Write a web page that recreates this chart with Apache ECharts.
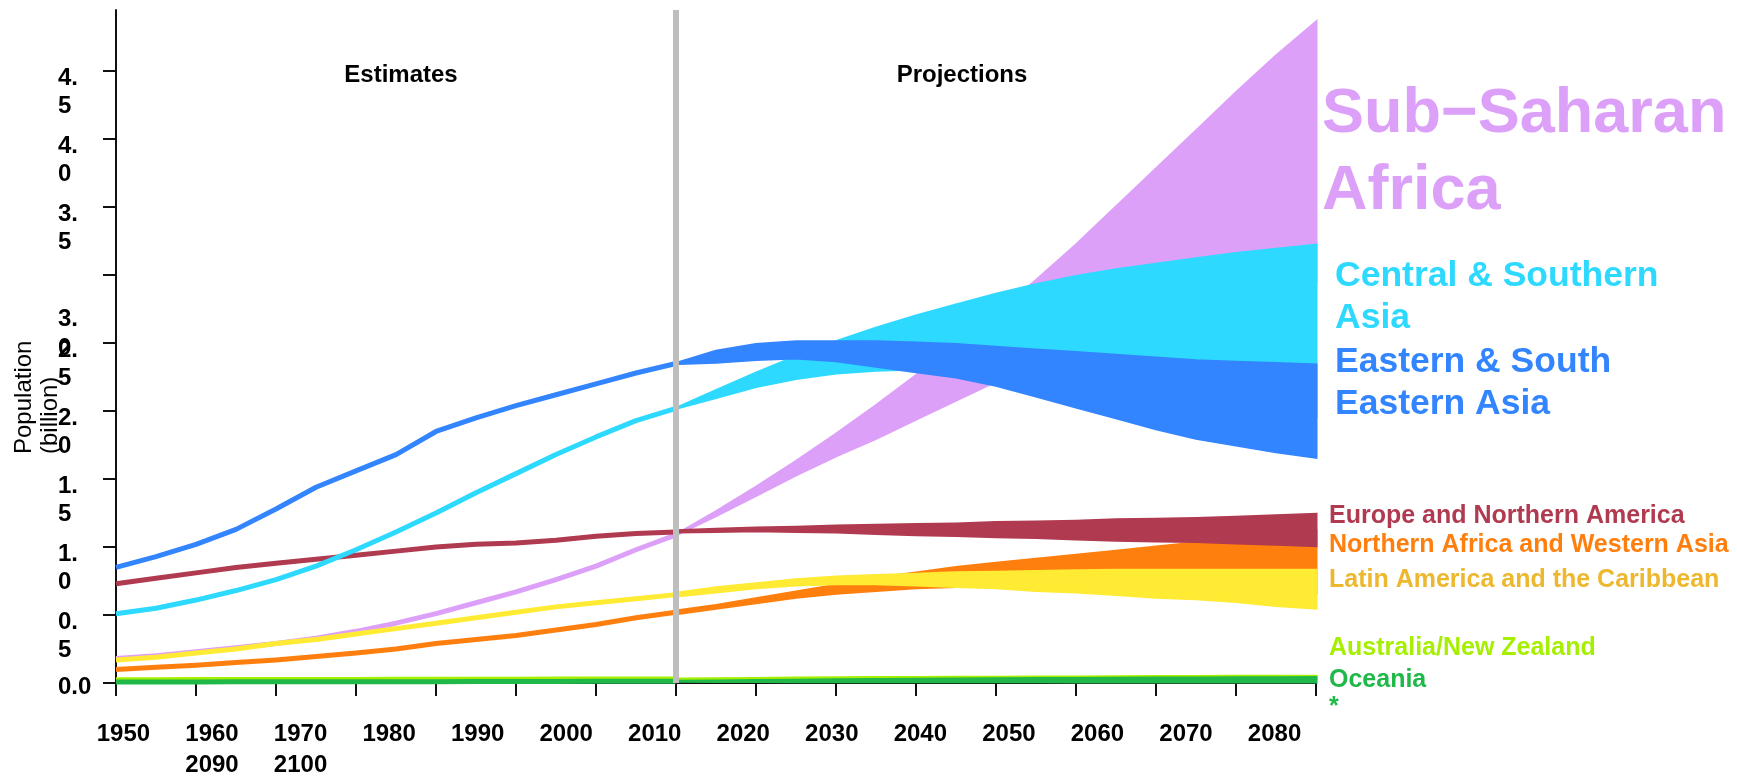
<!DOCTYPE html>
<html>
<head>
<meta charset="utf-8">
<script src="https://cdn.jsdelivr.net/npm/echarts@6/dist/echarts.min.js"></script>
<style>
html,body{margin:0;padding:0;background:#ffffff;}
#chart{width:1737px;height:776px;}
</style>
</head>
<body>
<div id="chart"></div>
<script>
// ---------------- data (billions) ----------------
const estYears  = [1950,1955,1960,1965,1970,1975,1980,1985,1990,1995,2000,2005,2010,2015,2020];
const projYears = [2020,2025,2030,2035,2040,2045,2050,2055,2060,2065,2070,2075,2080,2085,2090,2095,2100];

const ssaEst  = [0.18,0.20,0.23,0.26,0.29,0.33,0.38,0.44,0.51,0.59,0.67,0.76,0.86,0.98,1.09];
const ssaLo   = [1.09,1.23,1.38,1.53,1.67,1.80,1.94,2.08,2.22,2.35,2.47,2.58,2.68,2.77,2.85,2.91,2.96];
const ssaHi   = [1.09,1.26,1.44,1.63,1.83,2.04,2.26,2.48,2.71,2.96,3.22,3.50,3.78,4.06,4.34,4.61,4.86];

const csaEst  = [0.51,0.55,0.61,0.68,0.76,0.86,0.98,1.11,1.25,1.40,1.54,1.68,1.81,1.93,2.02];
const csaLo   = [2.02,2.10,2.18,2.24,2.28,2.30,2.31,2.31,2.30,2.28,2.25,2.21,2.16,2.11,2.06,2.01,1.96];
const csaHi   = [2.02,2.15,2.28,2.40,2.51,2.61,2.70,2.78,2.86,2.93,2.99,3.04,3.08,3.12,3.16,3.19,3.22];

const eseaEst = [0.85,0.93,1.02,1.13,1.28,1.44,1.56,1.68,1.85,1.95,2.04,2.12,2.20,2.28,2.35];
const eseaLo  = [2.35,2.36,2.38,2.39,2.37,2.33,2.29,2.25,2.19,2.11,2.03,1.95,1.87,1.80,1.75,1.70,1.66];
const eseaHi  = [2.35,2.44,2.49,2.51,2.51,2.51,2.50,2.49,2.47,2.45,2.43,2.41,2.39,2.37,2.36,2.35,2.34];

const enaEst  = [0.73,0.77,0.81,0.85,0.88,0.91,0.94,0.97,1.00,1.02,1.03,1.05,1.08,1.10,1.11];
const enaLo   = [1.11,1.115,1.12,1.115,1.11,1.10,1.09,1.085,1.075,1.07,1.06,1.05,1.045,1.04,1.03,1.02,1.01];
const enaHi   = [1.12,1.13,1.14,1.145,1.155,1.16,1.165,1.17,1.18,1.185,1.19,1.20,1.205,1.21,1.22,1.23,1.24];

const nawaEst = [0.10,0.115,0.13,0.15,0.17,0.195,0.22,0.25,0.29,0.32,0.35,0.39,0.43,0.48,0.52];
const nawaLo  = [0.51,0.55,0.59,0.63,0.66,0.68,0.70,0.71,0.72,0.72,0.72,0.71,0.70,0.69,0.68,0.67,0.66];
const nawaHi  = [0.53,0.57,0.62,0.67,0.72,0.77,0.81,0.85,0.88,0.91,0.94,0.97,1.00,1.03,1.06,1.09,1.12];

const lacEst  = [0.17,0.19,0.22,0.25,0.29,0.32,0.36,0.40,0.44,0.48,0.52,0.56,0.59,0.62,0.65];
const lacLo   = [0.64,0.67,0.70,0.72,0.73,0.73,0.72,0.71,0.70,0.68,0.67,0.65,0.63,0.62,0.60,0.57,0.55];
const lacHi   = [0.66,0.70,0.73,0.76,0.78,0.79,0.80,0.81,0.815,0.82,0.825,0.83,0.83,0.83,0.83,0.83,0.83];

const anzEst  = [0.024,0.024,0.025,0.025,0.026,0.026,0.026,0.027,0.027,0.028,0.028,0.029,0.029,0.030,0.030];
const anzLo   = [0.030,0.031,0.032,0.033,0.034,0.034,0.035,0.035,0.035,0.035,0.035,0.035,0.035,0.035,0.035,0.035,0.035];
const anzHi   = [0.030,0.032,0.034,0.036,0.038,0.040,0.041,0.042,0.043,0.044,0.045,0.046,0.047,0.048,0.049,0.050,0.050];

const oceEst  = [0.008,0.008,0.008,0.009,0.009,0.009,0.010,0.010,0.010,0.011,0.011,0.011,0.012,0.012,0.012];
const oceLo   = [0.012,0.011,0.011,0.010,0.010,0.010,0.009,0.009,0.009,0.009,0.008,0.008,0.008,0.008,0.008,0.008,0.008];
const oceHi   = [0.012,0.015,0.018,0.021,0.024,0.026,0.028,0.030,0.032,0.033,0.034,0.035,0.036,0.037,0.038,0.039,0.040];

const dividerYear = 2020;

const yTicks      = [0,0.5,1,1.5,2,2.5,3,3.5,4,4.5];
const yTickLabels = ['0.0','0.5','1.0','1.5','2.0','2.5','3.0','3.5','4.0','4.5'];
const xTicks      = [1950,1960,1970,1980,1990,2000,2010,2020,2030,2040,2050,2060,2070,2080,2090,2100];
const xTickLabels = ['1950','1960','1970','1980','1990','2000','2010','2020','2030','2040','2050','2060','2070','2080','2090','2100'];

// ---------------- styles ----------------
const C = {
  ssa:'#DDA0F8', csa:'#2ED9FF', esea:'#3385FF', ena:'#B03A50',
  nawa:'#FF7F0E', lac:'#FFEB33', lacText:'#EDB72E', anz:'#A6EF00', oce:'#21B84A'
};
const FONT = 'Liberation Sans, Arial, Helvetica, sans-serif';

function pairs(xs, ys){ return xs.map((x,i)=>[x, ys[i]]); }

function lineSeries(name, ys, color, z){
  return {
    type:'line', name, z, data: pairs(estYears, ys),
    showSymbol:false, symbol:'none', smooth:false, silent:true,
    lineStyle:{color, width:5, cap:'butt', join:'round'}
  };
}
function bandSeries(name, lo, hi, color, z){
  return {
    type:'custom', name, z, silent:true, coordinateSystem:'cartesian2d',
    data:[[projYears[0], lo[0]]],
    renderItem:function(params, api){
      const pts = [];
      for (let i=0;i<projYears.length;i++) pts.push(api.coord([projYears[i], hi[i]]));
      for (let i=projYears.length-1;i>=0;i--) pts.push(api.coord([projYears[i], lo[i]]));
      return {type:'polygon', shape:{points:pts},
        style:{fill:color, stroke:color, lineWidth:3, lineJoin:'miter'}};
    }
  };
}

// y labels: wrapped like the reference
function yLabel(v){
  const i = Math.round(v*2);
  const s = yTickLabels[i];
  if (s === undefined) return '';
  if (i === 0) return '{z|' + s + '}';
  const parts = s.split('.');
  if (i === 6) return '{s| }\n{c|' + parts[0] + '.}\n{e|' + parts[1] + '}';
  return '{a|' + parts[0] + '.}\n{b|' + parts[1] + '}';
}
const labFont = {fontSize:24, fontWeight:'bold', fontFamily:FONT, color:'#000', align:'left'};

// x labels laid out in 14 slots, overflow wraps to second row
const xSlots = xTickLabels.slice(0,14);
xSlots[1] = xSlots[1] + '\n' + xTickLabels[14];
xSlots[2] = xSlots[2] + '\n' + xTickLabels[15];

const series = [
  bandSeries('ssaBand', ssaLo, ssaHi, C.ssa, 2), lineSeries('Sub-Saharan Africa', ssaEst, C.ssa, 2),
  bandSeries('nawaBand', nawaLo, nawaHi, C.nawa, 3), lineSeries('Northern Africa and Western Asia', nawaEst, C.nawa, 3),
  bandSeries('lacBand', lacLo, lacHi, C.lac, 4), lineSeries('Latin America and the Caribbean', lacEst, C.lac, 4),
  bandSeries('enaBand', enaLo, enaHi, C.ena, 5), lineSeries('Europe and Northern America', enaEst, C.ena, 5),
  bandSeries('csaBand', csaLo, csaHi, C.csa, 6), lineSeries('Central & Southern Asia', csaEst, C.csa, 6),
  bandSeries('eseaBand', eseaLo, eseaHi, C.esea, 7), lineSeries('Eastern & South Eastern Asia', eseaEst, C.esea, 7),
  bandSeries('anzBand', anzLo, anzHi, C.anz, 8), lineSeries('Australia/New Zealand', anzEst, C.anz, 8),
  bandSeries('oceBand', oceLo, oceHi, C.oce, 9), lineSeries('Oceania*', oceEst, C.oce, 9),
  {
    type:'custom', name:'divider', z:20, silent:true, coordinateSystem:'cartesian2d',
    data:[[dividerYear, 0]],
    renderItem:function(params, api){
      const p0 = api.coord([dividerYear, 0]);
      const p1 = api.coord([dividerYear, 4.95]);
      return {type:'line', shape:{x1:p0[0], y1:p0[1], x2:p1[0], y2:p1[1]},
        style:{stroke:'#BEBEBE', lineWidth:6}};
    }
  }
];

const option = {
  animation:false,
  backgroundColor:'#ffffff',
  grid:[
    {left:116, right:421, top:10, bottom:93, outerBoundsMode:'none', containLabel:false},
    {left:79.2, width:1239.6, top:10, bottom:93, outerBoundsMode:'none', containLabel:false}
  ],
  xAxis:[
    {type:'value', gridIndex:0, min:1950, max:2100, interval:10,
     axisLine:{show:true, onZero:false, lineStyle:{color:'#111', width:2}},
     axisTick:{show:true, length:13, inside:false, customValues:xTicks, lineStyle:{color:'#111', width:2}},
     axisLabel:{show:false}, splitLine:{show:false}},
    {type:'category', gridIndex:1, data:xSlots, boundaryGap:true,
     axisLine:{show:false}, axisTick:{show:false}, splitLine:{show:false},
     axisLabel:{show:true, interval:0, margin:35.5, lineHeight:31, fontSize:24, fontWeight:'bold',
       fontFamily:FONT, color:'#000', align:'center', verticalAlign:'top'}}
  ],
  yAxis:[
    {type:'value', gridIndex:0, min:0, max:4.95, interval:0.5,
     axisLine:{show:true, onZero:false, lineStyle:{color:'#111', width:2}},
     axisTick:{show:true, length:13, inside:false, customValues:yTicks, lineStyle:{color:'#111', width:2}},
     splitLine:{show:false},
     axisLabel:{show:true, customValues:yTicks, margin:58, align:'left', verticalAlign:'top',
       formatter:yLabel, fontSize:24, fontWeight:'bold', fontFamily:FONT, color:'#000',
       rich:{
         a:Object.assign({lineHeight:14}, labFont),
         b:Object.assign({lineHeight:42}, labFont),
         z:Object.assign({lineHeight:8}, labFont),
         s:Object.assign({lineHeight:30}, labFont),
         c:Object.assign({lineHeight:28}, labFont),
         e:Object.assign({lineHeight:30}, labFont)
       }}},
    {type:'value', gridIndex:1, min:0, max:1, show:false}
  ],
  series:series,
  graphic:[
    {type:'text', x:401, y:75, silent:true, style:{text:'Estimates', align:'center', verticalAlign:'middle',
      fontSize:24, fontWeight:'bold', fontFamily:FONT, fill:'#000'}},
    {type:'text', x:962, y:75, silent:true, style:{text:'Projections', align:'center', verticalAlign:'middle',
      fontSize:24, fontWeight:'bold', fontFamily:FONT, fill:'#000'}},
    {type:'text', x:37, y:454, rotation:Math.PI/2, silent:true, style:{text:'Population\n(billion)',
      align:'left', verticalAlign:'middle', fontSize:24, lineHeight:26, fontFamily:FONT, fill:'#000'}},
    {type:'text', x:1322, y:153.5, silent:true, style:{text:'Sub\u2212Saharan\nAfrica', align:'left', verticalAlign:'middle',
      fontSize:63, lineHeight:77, fontWeight:'bold', fontFamily:FONT, fill:C.ssa}},
    {type:'text', x:1335, y:297, silent:true, style:{text:'Central & Southern\nAsia', align:'left', verticalAlign:'middle',
      fontSize:35.5, lineHeight:42, fontWeight:'bold', fontFamily:FONT, fill:C.csa}},
    {type:'text', x:1335, y:383, silent:true, style:{text:'Eastern & South\nEastern Asia', align:'left', verticalAlign:'middle',
      fontSize:35.5, lineHeight:42, fontWeight:'bold', fontFamily:FONT, fill:C.esea}},
    {type:'text', x:1329, y:516, silent:true, style:{text:'Europe and Northern America', align:'left', verticalAlign:'middle',
      fontSize:25, fontWeight:'bold', fontFamily:FONT, fill:C.ena}},
    {type:'text', x:1329, y:545, silent:true, style:{text:'Northern Africa and Western Asia', align:'left', verticalAlign:'middle',
      fontSize:25, fontWeight:'bold', fontFamily:FONT, fill:C.nawa}},
    {type:'text', x:1329, y:580, silent:true, style:{text:'Latin America and the Caribbean', align:'left', verticalAlign:'middle',
      fontSize:25, fontWeight:'bold', fontFamily:FONT, fill:C.lacText}},
    {type:'text', x:1329, y:648, silent:true, style:{text:'Australia/New Zealand', align:'left', verticalAlign:'middle',
      fontSize:25, fontWeight:'bold', fontFamily:FONT, fill:C.anz}},
    {type:'text', x:1329, y:680, silent:true, style:{text:'Oceania', align:'left', verticalAlign:'middle',
      fontSize:25, fontWeight:'bold', fontFamily:FONT, fill:C.oce}},
    {type:'text', x:1329, y:707, silent:true, style:{text:'*', align:'left', verticalAlign:'middle',
      fontSize:25, fontWeight:'bold', fontFamily:FONT, fill:C.oce}}
  ]
};

const chart = echarts.init(document.getElementById('chart'), null, {renderer:'canvas', width:1737, height:776});
chart.setOption(option);
</script>
</body>
</html>
